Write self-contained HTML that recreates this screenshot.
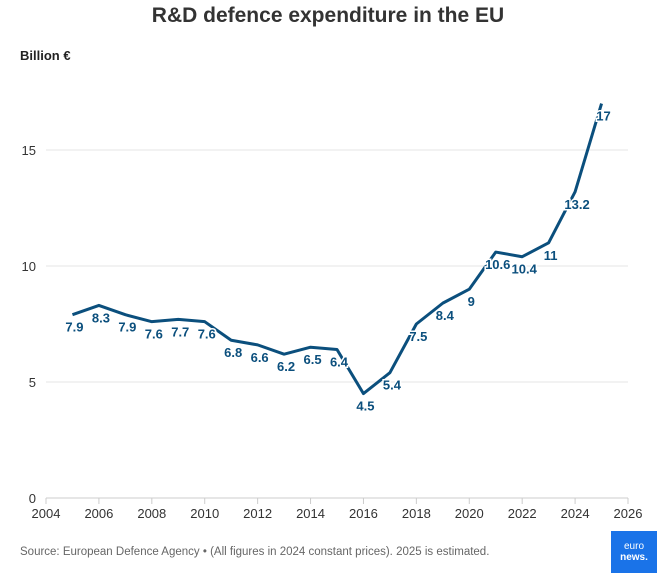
<!DOCTYPE html>
<html><head><meta charset="utf-8"><style>
body{margin:0;background:#fff;font-family:"Liberation Sans",sans-serif}
svg text{font-family:"Liberation Sans",sans-serif}
</style></head><body>
<svg id="c" width="657" height="573" xmlns="http://www.w3.org/2000/svg">
<text x="328" y="22" text-anchor="middle" font-size="21" font-weight="bold" fill="#333">R&amp;D defence expenditure in the EU</text>
<text x="20" y="60" font-size="13" font-weight="bold" fill="#222">Billion €</text>
<g id="grid"></g><g id="xt"></g><path id="line" fill="none" stroke="#0b4f7d" stroke-width="3" stroke-linejoin="round"/><g id="lbl"></g>
<text x="20" y="555" font-size="11.5" fill="#666">Source: European Defence Agency • (All figures in 2024 constant prices). 2025 is estimated.</text>
<rect x="611" y="531" width="46" height="42" fill="#1a73e8"/>
<text x="634" y="549" text-anchor="middle" font-size="10" fill="#fff">euro</text>
<text x="634" y="560" text-anchor="middle" font-size="10" font-weight="bold" fill="#fff">news.</text>
</svg>
<script>
const years=[2005,2006,2007,2008,2009,2010,2011,2012,2013,2014,2015,2016,2017,2018,2019,2020,2021,2022,2023,2024,2025];
const values=[7.9,8.3,7.9,7.6,7.7,7.6,6.8,6.6,6.2,6.5,6.4,4.5,5.4,7.5,8.4,9,10.6,10.4,11,13.2,17];
const yTicks=[0,5,10,15];
const xTicks=[2004,2006,2008,2010,2012,2014,2016,2018,2020,2022,2024,2026];
const NS="http://www.w3.org/2000/svg";
const X=v=>46+(v-2004)*(582/22), Y=v=>498-v*23.2;
function mk(t,a,p){const e=document.createElementNS(NS,t);for(const k in a)e.setAttribute(k,a[k]);p.appendChild(e);return e;}
const g=document.getElementById('grid');
yTicks.forEach(v=>{
 const l=mk('line',{x1:46,x2:628,y1:Y(v),y2:Y(v),stroke:'#e6e6e6'},g);
 
 
 const t=mk('text',{x:36,y:Y(v)+5,'text-anchor':'end','font-size':13,fill:'#333'},g);t.textContent=v;
 
 
});
const xt=document.getElementById('xt');
mk('line',{x1:46,x2:628,y1:498,y2:498,stroke:'#ccc'},xt);
xTicks.forEach(v=>{
 mk('line',{x1:X(v),x2:X(v),y1:498,y2:504,stroke:'#ccc'},xt);
 const t=mk('text',{x:X(v),y:518,'text-anchor':'middle','font-size':13,fill:'#333'},xt);t.textContent=v;
 
 
});
document.getElementById('line').setAttribute('d',years.map((y,i)=>(i?'L':'M')+X(y)+' '+Y(values[i])).join(' '));
const lb=document.getElementById('lbl');
years.forEach((y,i)=>{
 const t=mk('text',{x:X(y)+2,y:Y(values[i])+17,'text-anchor':'middle','font-size':13,'font-weight':'bold',fill:'#0b4f7d',stroke:'#fff','stroke-width':3,'paint-order':'stroke'},lb);
 t.textContent=values[i];
 
 
});
</script>
</body></html>
